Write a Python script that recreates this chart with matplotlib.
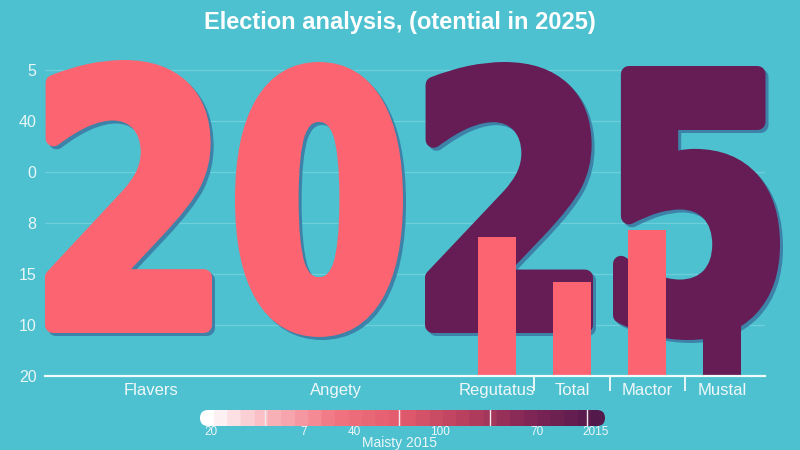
import numpy as np
import matplotlib
matplotlib.use("Agg")
import matplotlib.pyplot as plt
from matplotlib.textpath import TextPath
from matplotlib.font_manager import FontProperties
from matplotlib.patches import PathPatch, FancyBboxPatch
from matplotlib.colors import LinearSegmentedColormap, ListedColormap
import matplotlib.transforms as mtransforms

# ---------------- data ----------------
title = "Election analysis, (otential in 2025)"
categories = ["Flavers", "Angety", "Regutatus", "Total", "Mactor", "Mustal"]
y_tick_labels = ["20", "10", "15", "8", "0", "40", "5"]  # bottom to top
bar_categories = ["Regutatus", "Total", "Mactor", "Mustal"]
bar_values = [2.72, 1.84, 2.87, 1.0]
bar_groups = ["coral", "coral", "coral", "purple"]
big_text = "2025"
digit_groups = ["coral", "coral", "purple", "purple"]
cbar_labels = ["20", "7", "40", "100", "70", "2015"]
cbar_title = "Maisty 2015"

# ---------------- layout / style ----------------
W, H = 800, 450
BG = "#4dc1cf"
CORAL = "#fb6470"
PURPLE = "#661d55"
SHADOW = "#3d82a8"
colors = {"coral": CORAL, "purple": PURPLE}
cat_pos = [106, 291, 452, 527, 602, 677]          # x positions (axis units)
sep_pos = [489, 565, 640]
bar_width = 38
digit_boxes = [(45, 60, 212, 333), (235, 62, 403, 337),
               (425, 62, 593, 333), (613, 66, 780, 340)]  # px: l, t, r, b
STROKE = 8  # half stroke (px) used to fatten the glyphs
cbar_label_pos = [11, 104, 154, 240, 337, 396]
cbar_div_pos = [65, 199, 290, 387]

FONT = ["Liberation Sans", "DejaVu Sans"]
plt.rcParams["font.family"] = FONT

fig = plt.figure(figsize=(W / 100, H / 100), dpi=100, facecolor=BG)

ax_l, ax_r, ax_b, ax_t = 45, 765, 376, 55
ax = fig.add_axes([ax_l / W, 1 - ax_b / H, (ax_r - ax_l) / W, (ax_b - ax_t) / H])
ax.set_facecolor("none")
unit = 51.0
ax.set_ylim(0, (ax_b - ax_t) / unit)
ax.set_xlim(0, ax_r - ax_l)

# grid
ax.set_yticks(range(len(y_tick_labels)))
ax.set_yticklabels(y_tick_labels, color="#eaf6f8", fontsize=11.5)
ax.tick_params(axis="y", length=0, pad=6)
ax.grid(axis="y", color="#6ccfdb", lw=0.9, zorder=0)
ax.set_axisbelow(True)
for s in ["left", "right", "top"]:
    ax.spines[s].set_visible(False)
ax.spines["bottom"].set_color("#f2fbfc")
ax.spines["bottom"].set_linewidth(1.6)
ax.spines["bottom"].set_zorder(5)

ax.set_xticks(cat_pos)
ax.set_xticklabels(categories, color="#f0f8fa", fontsize=12)
ax.tick_params(axis="x", length=0, pad=5)
ax.set_xticks(sep_pos, minor=True)
ax.tick_params(axis="x", which="minor", length=11, width=1.3, color="#f2fbfc")

# big digits (glyph outlines, fattened with a round stroke)
fp = FontProperties(family="DejaVu Sans", weight="bold")
lw_pt = 2 * STROKE * 72 / 100
for ch, grp, (l, t, r, b) in zip(big_text, digit_groups, digit_boxes):
    path = TextPath((0, 0), ch, prop=fp, size=100)
    ext = path.get_extents()
    l2, t2, r2, b2 = l + STROKE, t + STROKE, r - STROKE, b - STROKE
    sx = (r2 - l2) / ext.width
    sy = (b2 - t2) / ext.height
    for dx, dy, col, z in [(3, 3, SHADOW, 1), (0, 0, colors[grp], 2)]:
        tr = (mtransforms.Affine2D()
              .translate(-ext.x0, -ext.y0)
              .scale(sx / W, sy / H)
              .translate((l2 + dx) / W, 1 - (b2 + dy) / H)
              + fig.transFigure)
        ax.add_patch(PathPatch(path, facecolor=col, edgecolor=col, lw=lw_pt,
                               joinstyle="round", transform=tr,
                               clip_on=False, zorder=z))

# bars
bx = [cat_pos[categories.index(c)] for c in bar_categories]
ax.bar(bx, bar_values, width=bar_width,
       color=[colors[g] for g in bar_groups], zorder=3)

# title
fig.text(0.5, 1 - 22 / H, title, ha="center", va="center",
         color="white", fontsize=17, fontweight="bold")

# colorbar
cl, cr, ct, cb = 200, 605, 410, 426
cax = fig.add_axes([cl / W, 1 - cb / H, (cr - cl) / W, (cb - ct) / H])
cax.set_xlim(0, cr - cl)
cax.set_ylim(0, cb - ct)
cax.axis("off")
base = LinearSegmentedColormap.from_list(
    "m", ["#ffffff", "#f9b3ba", "#f07480", "#e25b6c", "#b63f5e", "#7e2656", "#541a4b"])
cmap = ListedColormap(base(np.linspace(0, 1, 30)))
grad = np.linspace(0, 1, 400)[None, :]
im = cax.imshow(grad, cmap=cmap, aspect="auto", extent=(0, cr - cl, 0, cb - ct))
clip = FancyBboxPatch((0, 0), cr - cl, cb - ct,
                      boxstyle="round,pad=0,rounding_size=8",
                      transform=cax.transData, facecolor="none", edgecolor="none")
cax.add_patch(clip)
im.set_clip_path(clip)
for x in cbar_div_pos:
    cax.plot([x, x], [0, cb - ct], color="#f4e9ee", lw=1.0)
for lab, x in zip(cbar_labels, cbar_label_pos):
    fig.text((cl + x) / W, 1 - 432 / H, lab, ha="center", va="center",
             color="#eef7f9", fontsize=8.5)
fig.text(0.5, 1 - 443 / H, cbar_title, ha="center", va="center",
         color="#eef7f9", fontsize=10)

fig.savefig("out.png", dpi=100, facecolor=BG)
